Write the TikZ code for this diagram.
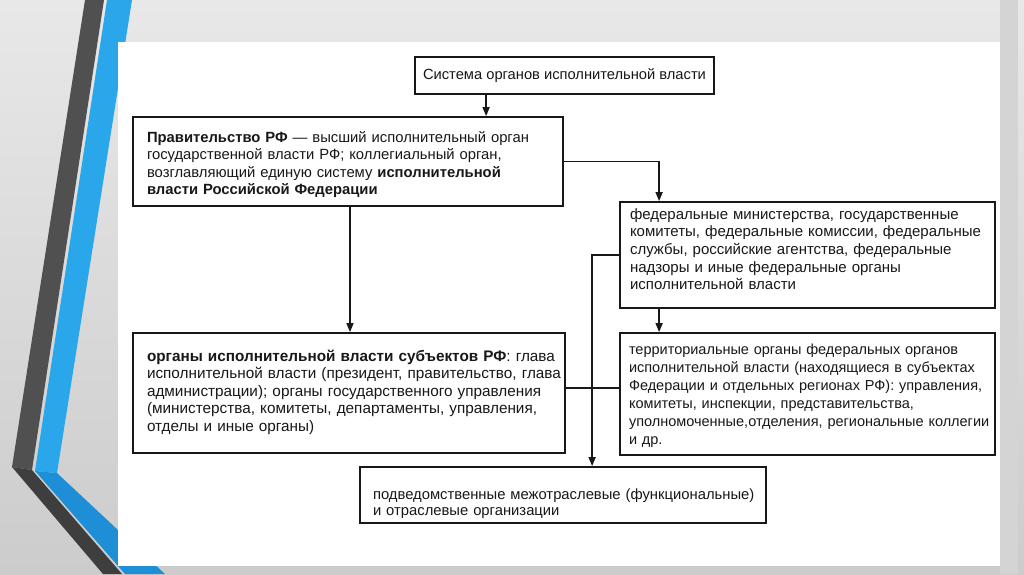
\documentclass[tikz,border=0pt]{standalone}
\usepackage{fontspec}
\setmainfont{Liberation Sans}
\usetikzlibrary{arrows.meta, calc}

\definecolor{ink}{HTML}{181818}
\definecolor{slatebar}{HTML}{505050}
\definecolor{slatebarlow}{HTML}{3E3E3E}
\definecolor{skybar}{HTML}{2AA6EA}
\definecolor{skybarlow}{HTML}{1E8FD6}

\begin{document}
\begin{tikzpicture}[x=1pt, y=-1pt,
    block/.style={rectangle, draw=ink, line width=1.8pt, fill=white,
        inner xsep=0pt, inner ysep=0pt, align=left, text=ink,
        text height=12pt, font=\fontsize{14.8}{17.6}\selectfont,
        execute at begin node={\leftskip=#1}},
    block/.default=14pt,
    title/.style={rectangle, draw=ink, line width=1.8pt, fill=white,
        inner sep=0pt, align=center, text=ink,
        font=\fontsize{14.7}{17.6}\selectfont},
    arr/.style={-{Triangle[length=9pt, width=7pt]}, line width=1.5pt, draw=ink},
    link/.style={line width=1.5pt, draw=ink}
]
\useasboundingbox (0,0) rectangle (1024,574);

%% Slide background
\shade[top color=black!9, bottom color=black!20] (0,0) rectangle (1024,574);
\fill[black!17] (1000,0) rectangle (1018,574);

%% Left stripes
\fill[slatebar]    (85,0) -- (104,0) -- (32,470) -- (12,467) -- cycle;
\fill[slatebarlow] (12,467) -- (32,470) -- (122,574) -- (103,574) -- cycle;
\fill[skybar]      (107,0) -- (132,0) -- (57,473) -- (35,471) -- cycle;
\fill[skybarlow]   (35,471) -- (57,473) -- (165,574) -- (125,574) -- cycle;

%% Sheet
\fill[white] (118,42) rectangle (1000,566);

%% Boxes
\node[title, minimum width=299pt, minimum height=37pt] (sys) at (564.5,75.5)
    {Система органов исполнительной власти};

\node[block, text width=430pt, minimum height=89pt, text depth=51pt] (gov) at (348,161.5)
    {\textbf{Правительство РФ} — высший исполнительный орган\\
     государственной власти РФ; коллегиальный орган,\\
     возглавляющий единую систему \textbf{исполнительной}\\
     \textbf{власти Российской Федерации}};

\node[block=10pt, text width=375pt, minimum height=106pt, text depth=84pt,
      font=\fontsize{15}{17.7}\selectfont] (fed) at (807.5,255)
    {федеральные министерства, государственные\\
     комитеты, федеральные комиссии, федеральные\\
     службы, российские агентства, федеральные\\
     надзоры и иные федеральные органы\\
     исполнительной власти};

\node[block, text width=432pt, minimum height=120pt, text depth=76pt,
      font=\fontsize{15.3}{17.5}\selectfont] (reg) at (349,393)
    {\textbf{органы исполнительной власти субъектов РФ}: глава\\
     исполнительной власти (президент, правительство, глава\\
     администрации); органы государственного управления\\
     (министерства, комитеты, департаменты, управления,\\
     отделы и иные органы)};

\node[block=9pt, text width=375pt, minimum height=122pt, text depth=92pt,
      font=\fontsize{14.5}{18}\selectfont] (terr) at (807.5,394)
    {территориальные органы федеральных органов\\
     исполнительной власти (находящиеся в субъектах\\
     Федерации и отдельных регионах РФ): управления,\\
     комитеты, инспекции, представительства,\\
     уполномоченные,отделения, региональные коллегии\\
     и др.};

\node[block=13pt, text width=406pt, minimum height=56pt, text depth=4pt,
      font=\fontsize{14.8}{16.5}\selectfont] (sub) at (563,495)
    {подведомственные межотраслевые (функциональные)\\
     и отраслевые организации};

%% ── System → Government ─────────────────────────────
\draw[arr] ([xshift=72pt]sys.south west) -- ([xshift=72pt]sys.south west |- gov.north);

%% ── Government → federal bodies ─────────────────────
\draw[arr] (gov.east) -| ([xshift=40pt]fed.north west);

%% ── Government → regional bodies ────────────────────
\draw[arr] ([xshift=2pt]gov.south) -- ([xshift=2pt]gov.south |- reg.north);

%% ── Federal → territorial ───────────────────────────
\draw[arr] ([xshift=40pt]fed.south west) -- ([xshift=40pt]terr.north west);

%% ── Federal → subordinate organisations ─────────────
\draw[arr] (fed.west) -| ([xshift=233pt]sub.north west);

%% ── Regional — territorial ──────────────────────────
\draw[link] ([yshift=5pt]reg.east) -- ([yshift=5pt]reg.east -| terr.west);

\end{tikzpicture}
\end{document}
